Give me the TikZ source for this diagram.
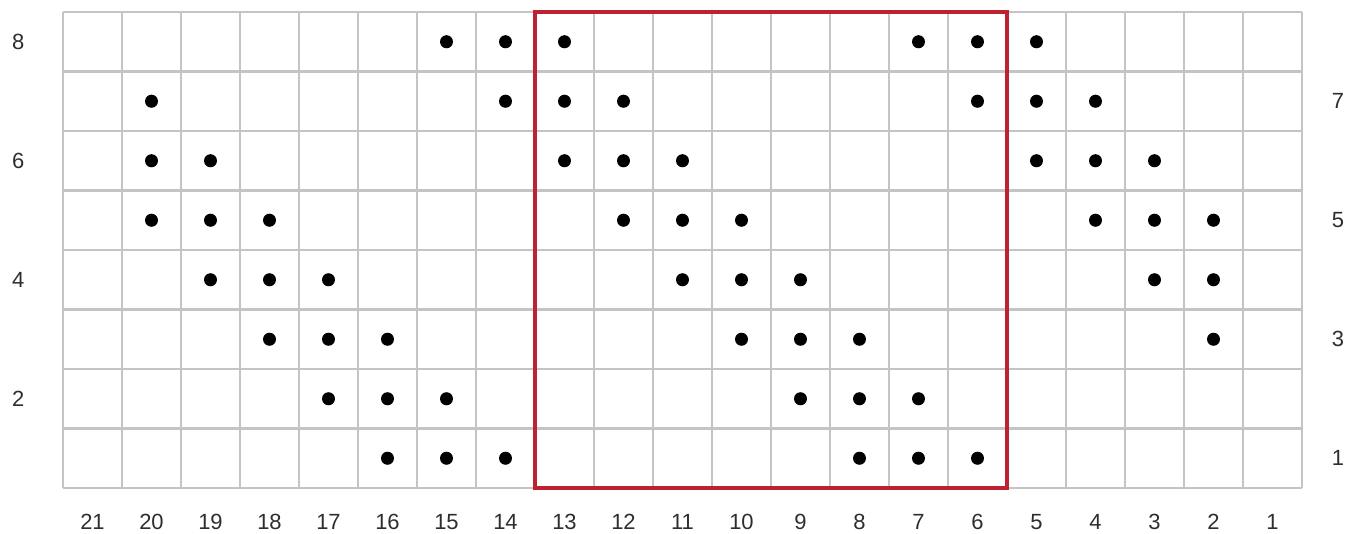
\documentclass[tikz,border=0pt]{standalone}
\usepackage{fontspec}
\setmainfont{Liberation Sans}
\definecolor{gridline}{HTML}{C4C4C4}
\definecolor{repeatbox}{HTML}{BE2231}
\definecolor{ink}{HTML}{2E2E2E}

\begin{document}
\begin{tikzpicture}[
  line cap=round,line join=round,
  numlabel/.style={font=\fontsize{12.5}{14}\selectfont, text=ink, inner sep=0pt},
  cellline/.style={draw=gridline, line width=1.6pt, line cap=butt},
  purl/.style={fill=black}
]
\useasboundingbox (0,0) rectangle (27.12,10.68);

\begin{scope}[shift={(1.26,0.92)}, x=1.18cm, y=1.19cm]
  % chart grid
  \foreach \i in {0,...,21}{
    \draw[cellline] (\i,0) -- (\i,8);
  }
  \foreach \j in {0,...,8}{
    \draw[cellline] (0,\j) -- (21,\j);
  }

  % purl stitches, listed by row and column number
  \foreach \r/\cols in {8/{15,14,13,7,6,5},
                        7/{20,14,13,12,6,5,4},
                        6/{20,19,13,12,11,5,4,3},
                        5/{20,19,18,12,11,10,4,3,2},
                        4/{19,18,17,11,10,9,3,2},
                        3/{18,17,16,10,9,8,2},
                        2/{17,16,15,9,8,7},
                        1/{16,15,14,8,7,6}}{
    \foreach \c in \cols {
      \fill[purl] (21-\c+.5,\r-.5) circle (0.11);
    }
  }

  % pattern repeat
  \draw[repeatbox, line width=2.4pt, line cap=butt, line join=miter] (8,0) rectangle (16,8);

  % column numbers
  \foreach \c in {1,...,21}{
    \node[numlabel] (col\c) at (21-\c+.5,-.57) {\c};
  }

  % row numbers: even rows on the left, odd rows on the right
  \foreach \r in {2,4,6,8}{
    \node[numlabel] (row\r) at (-.76,\r-.5) {\r};
  }
  \foreach \r in {1,3,5,7}{
    \node[numlabel] (row\r) at (21.61,\r-.5) {\r};
  }
\end{scope}

\end{tikzpicture}
\end{document}
